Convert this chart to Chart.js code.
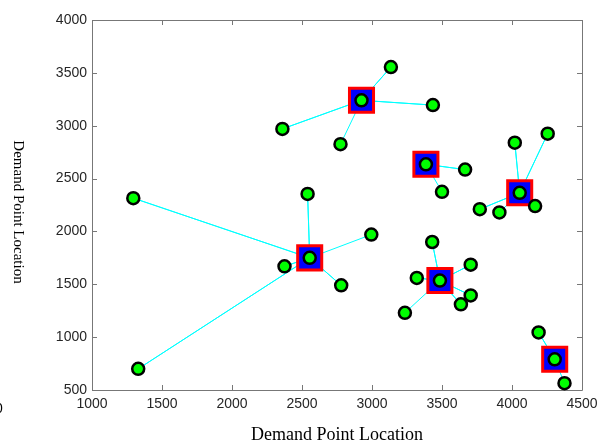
<!DOCTYPE html>
<html>
<head>
<meta charset="utf-8">
<script src="https://cdn.jsdelivr.net/npm/chart.js@4.4.0/dist/chart.umd.min.js"></script>
<style>
  body { margin: 0; background: #fff; }
  #wrap { position: relative; width: 602px; height: 447px; overflow: hidden; }
  #ytitle {
    position: absolute; left: 10px; top: 212px; transform: translateY(-50%);
    writing-mode: vertical-rl; line-height: 17px;
    font: 15px "Liberation Serif", "Times New Roman", serif; color: #000;
  }
  #stray {
    position: absolute; left: -5px; top: 400px;
    font: 14px "Liberation Sans", Arial, sans-serif; color: #000;
  }
</style>
</head>
<body>
<div id="wrap">
  <canvas id="chart" width="602" height="447"></canvas>
  <div id="ytitle">Demand Point Location</div>
  <div id="stray">0</div>
</div>
<script>
// Центры (квадратные маркеры)
const centerX = [2555, 2925, 3385, 4055, 3485, 4305];
const centerY = [1750, 3240, 2635, 2365, 1535, 790];

// Точки спроса и номер центра, к которому они привязаны
const demandX = [1295, 1330, 2375, 2540, 2780, 2995,
                 2360, 3135, 3435, 2775,
                 3665, 3500,
                 4020, 4255, 4165, 3770, 3910,
                 3430, 3705, 3320, 3705, 3635, 3235,
                 4190, 4375];
const demandY = [2315, 700, 1670, 2355, 1490, 1970,
                 2970, 3555, 3195, 2825,
                 2585, 2375,
                 2840, 2925, 2240, 2210, 2180,
                 1900, 1685, 1560, 1395, 1310, 1230,
                 1045, 565];
const demandCluster = [0, 0, 0, 0, 0, 0,
                       1, 1, 1, 1,
                       2, 2,
                       3, 3, 3, 3, 3,
                       4, 4, 4, 4, 4, 4,
                       5, 5];

const xTicks = [1000, 1500, 2000, 2500, 3000, 3500, 4000, 4500];
const yTicks = [500, 1000, 1500, 2000, 2500, 3000, 3500, 4000];

const datasets = [];

// Линии от центров к точкам
centerX.forEach((cx, c) => {
    const pts = [];
    demandCluster.forEach((k, i) => {
        if (k !== c) return;
        pts.push({x: cx, y: centerY[c]});
        pts.push({x: demandX[i], y: demandY[i]});
    });
    datasets.push({
        data: pts,
        showLine: true,
        borderColor: '#00ffff',
        borderWidth: 1,
        pointRadius: 0,
        clip: false,
        order: 3
    });
});

// Квадраты центров
datasets.push({
    data: centerX.map((x, i) => ({x: x, y: centerY[i]})),
    pointStyle: 'rect',
    pointRadius: 17,
    backgroundColor: '#0000ff',
    borderColor: '#ff0000',
    borderWidth: 3,
    clip: false,
    order: 2
});

// Все точки спроса (включая центры)
datasets.push({
    data: demandX.map((x, i) => ({x: x, y: demandY[i]}))
        .concat(centerX.map((x, i) => ({x: x, y: centerY[i]}))),
    pointRadius: 6,
    backgroundColor: '#00ff00',
    borderColor: '#000000',
    borderWidth: 2.5,
    clip: false,
    order: 1
});

// Рамка и засечки внутрь, со всех четырёх сторон
const boxTicks = {
    id: 'boxTicks',
    beforeDatasetsDraw(chart) {
        const {ctx, chartArea: a, scales} = chart;
        const len = 5;
        ctx.save();
        ctx.strokeStyle = '#777';
        ctx.lineWidth = 1;
        ctx.beginPath();
        ctx.rect(a.left + 0.5, a.top + 0.5, a.right - a.left, a.bottom - a.top);
        xTicks.forEach(v => {
            const px = Math.round(scales.x.getPixelForValue(v)) + 0.5;
            ctx.moveTo(px, a.bottom); ctx.lineTo(px, a.bottom - len);
            ctx.moveTo(px, a.top); ctx.lineTo(px, a.top + len);
        });
        yTicks.forEach(v => {
            const py = Math.round(scales.y.getPixelForValue(v)) + 0.5;
            ctx.moveTo(a.left, py); ctx.lineTo(a.left + len, py);
            ctx.moveTo(a.right, py); ctx.lineTo(a.right - len, py);
        });
        ctx.stroke();
        ctx.restore();
    }
};

const tickFont = {family: '"Liberation Sans", Arial, sans-serif', size: 14};

new Chart(document.getElementById('chart').getContext('2d'), {
    type: 'scatter',
    data: {datasets: datasets},
    options: {
        responsive: false,
        animation: false,
        events: [],
        layout: {padding: {left: 0, top: 15, right: 20, bottom: 0}},
        plugins: {legend: {display: false}, tooltip: {enabled: false}},
        scales: {
            x: {
                type: 'linear',
                min: 1000, max: 4500,
                afterBuildTicks: s => { s.ticks = xTicks.map(v => ({value: v})); },
                afterFit: s => { s.height = 57; s.paddingLeft = 0; s.paddingRight = 0; },
                grid: {display: false, drawTicks: false},
                border: {display: false},
                ticks: {color: '#262626', font: tickFont, padding: 6, maxRotation: 0, autoSkip: false,
                        callback: v => String(v)},
                title: {
                    display: true,
                    text: 'Demand Point Location',
                    color: '#000',
                    font: {family: '"Liberation Serif", "Times New Roman", serif', size: 18},
                    padding: {top: 0, bottom: 1}
                }
            },
            y: {
                type: 'linear',
                min: 500, max: 4000,
                afterBuildTicks: s => { s.ticks = yTicks.map(v => ({value: v})); },
                afterFit: s => { s.width = 92; s.paddingTop = 0; s.paddingBottom = 0; },
                grid: {display: false, drawTicks: false},
                border: {display: false},
                ticks: {color: '#262626', font: tickFont, padding: 5, autoSkip: false,
                        callback: v => String(v)}
            }
        }
    },
    plugins: [boxTicks]
});
</script>
</body>
</html>
